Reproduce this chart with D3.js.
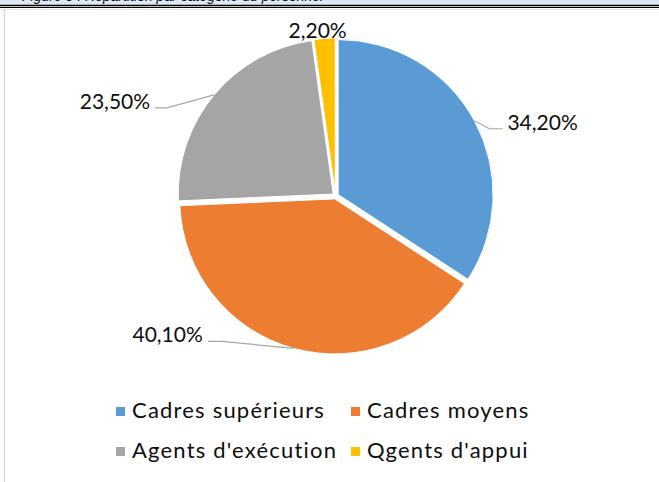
<!DOCTYPE html>
<html>
<head>
<meta charset="utf-8">
<script src="https://cdn.jsdelivr.net/npm/d3@7"></script>
<style>
  body { margin: 0; background: #fff; }
  text { font-family: Lato, "Open Sans", sans-serif; fill: #0d0d0d; }
</style>
</head>
<body>
<script>
// chart data
const categories = ["Cadres supérieurs", "Cadres moyens", "Agents d'exécution", "Qgents d'appui"];
const percentages = [34.2, 40.1, 23.5, 2.2];
const colors = ["#5B9BD5", "#ED7D31", "#A5A5A5", "#FFC000"];

// svg size
const svgWidth = 659;
const svgHeight = 482;

// pie geometry
const cx = 335.5, cy = 196;
const radius = 155;
const explode = 3;
const labelFont = 21;
const legendFont = 22;

// leader line / label offsets from the slice's outer edge point
// [elbow dx, elbow dy, end dx, end dy, anchor]
const labelLayout = [
  [15, 8, 28, 8, "start"],
  [-72, -7, -86, -7, "end"],
  [-47, 13, -59, 13, "end"],
  [null, null, -7, -1, "middle"]
];

const svg = d3.select("body")
  .append("svg")
  .attr("width", svgWidth)
  .attr("height", svgHeight);

// page frame bits above the chart (title is cut off in the source)
svg.append("rect").attr("x", 0).attr("y", 0).attr("width", svgWidth).attr("height", 5).attr("fill", "#dde8f4");
svg.append("text")
  .attr("x", 22).attr("y", 0.5)
  .style("font-family", "'Liberation Sans', sans-serif")
  .style("font-style", "italic")
  .style("font-size", "14px")
  .text("Figure 3 : Répartition par catégorie du personnel");
svg.append("line").attr("x1", 0).attr("x2", svgWidth).attr("y1", 5.5).attr("y2", 5.5).attr("stroke", "#000").attr("stroke-width", 1.5);
svg.append("line").attr("x1", 0).attr("x2", svgWidth).attr("y1", 7.5).attr("y2", 7.5).attr("stroke", "#000").attr("stroke-width", 1);
svg.append("line").attr("x1", 0).attr("x2", svgWidth).attr("y1", 9.5).attr("y2", 9.5).attr("stroke", "#e6e6e6").attr("stroke-width", 1);
svg.append("line").attr("x1", 4.5).attr("x2", 4.5).attr("y1", 9).attr("y2", svgHeight).attr("stroke", "#d9d9d9").attr("stroke-width", 1.5);

const pie = d3.pie().sort(null).value(d => d);
const arcs = pie(percentages);

const arc = d3.arc().innerRadius(0).outerRadius(radius);
const edgeArc = d3.arc().innerRadius(radius + explode).outerRadius(radius + explode);

const pieGroup = svg.append("g")
  .attr("transform", `translate(${cx}, ${cy})`);

// slices, each pushed out a little along its middle angle
pieGroup.selectAll(".slice")
  .data(arcs)
  .enter()
  .append("path")
    .attr("class", "slice")
    .attr("d", arc)
    .attr("fill", (d, i) => colors[i])
    .attr("stroke", "#fff")
    .attr("stroke-width", 1)
    .attr("transform", d => {
      let a = (d.startAngle + d.endAngle) / 2;
      return `translate(${Math.sin(a) * explode}, ${-Math.cos(a) * explode})`;
    });

const fmt = d3.format(".2f");

// leader lines + data labels
arcs.forEach(function(d, i) {
  let p = edgeArc.centroid(d);
  let L = labelLayout[i];
  if (L[0] !== null) {
    pieGroup.append("polyline")
      .attr("points", [p, [p[0] + L[0], p[1] + L[1]], [p[0] + L[2], p[1] + L[3]]].map(q => q.join(",")).join(" "))
      .attr("fill", "none")
      .attr("stroke", "#a6a6a6")
      .attr("stroke-width", 1.2);
  }
  let gap = L[4] === "start" ? 5 : (L[4] === "end" ? -5 : 0);
  pieGroup.append("text")
    .attr("x", p[0] + L[2] + gap)
    .attr("y", p[1] + L[3] + 1)
    .attr("text-anchor", L[4])
    .style("font-size", labelFont + "px")
    .text(fmt(percentages[i]).replace(".", ",") + "%");
});

// legend, 2 x 2
const legendCols = [116, 351];
const legendRows = [418, 458];
const legend = svg.append("g").attr("class", "legend");
categories.forEach(function(c, i) {
  let x = legendCols[i % 2], y = legendRows[Math.floor(i / 2)];
  legend.append("rect")
    .attr("x", x).attr("y", y - 11)
    .attr("width", 9).attr("height", 9)
    .attr("fill", colors[i]);
  legend.append("text")
    .attr("x", x + 16).attr("y", y)
    .style("font-size", legendFont + "px")
    .style("letter-spacing", "1.2px")
    .text(c);
});
</script>
</body>
</html>
